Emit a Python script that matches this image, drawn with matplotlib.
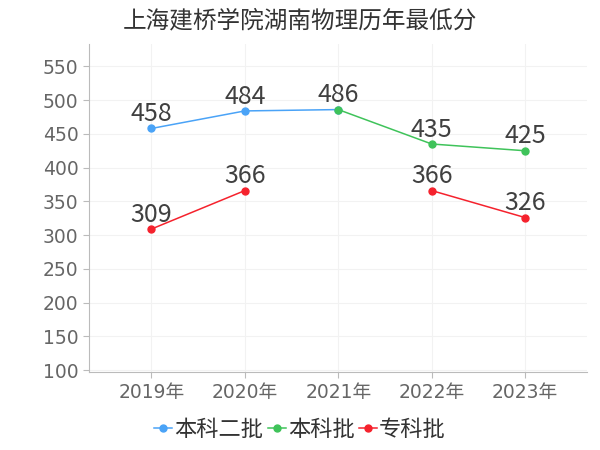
import numpy as np
import matplotlib
matplotlib.use('Agg')
import matplotlib.pyplot as plt

plt.rcParams['font.family'] = ['Noto Sans CJK SC', 'DejaVu Sans']

# data
years = ['2019年', '2020年', '2021年', '2022年', '2023年']
benke2 = [458, 484, 486, np.nan, np.nan]
benke = [np.nan, np.nan, 486, 435, 425]
zhuanke = [309, 366, np.nan, 366, 326]

series = [
    ('本科二批', benke2, '#4aa3f7'),
    ('本科批', benke, '#3fc35a'),
    ('专科批', zhuanke, '#f5222d'),
]

fig = plt.figure(figsize=(6, 4.5), dpi=100)
ax = fig.add_axes([0.148, 0.173, 0.83, 0.729])

x = np.arange(len(years))
done = set()
for name, vals, col in series:
    vals = np.array(vals, dtype=float)
    ax.plot(x, vals, color=col, linewidth=1.1, marker='o', markersize=5, label=name)
    for xi, v in zip(x, vals):
        if np.isnan(v) or (xi, v) in done:
            continue
        done.add((xi, v))
        ax.annotate(str(int(v)), (xi, v), xytext=(0, 1), textcoords='offset points',
                    ha='center', va='bottom', fontsize=18, color='#404040')

ax.set_xlim(-0.67, 4.66)
ax.set_ylim(97, 583)
ax.set_yticks(range(100, 551, 50))
ax.set_xticks(x)
ax.set_xticklabels(years, family=['DejaVu Sans', 'Noto Sans CJK SC'])
for lab in ax.get_yticklabels():
    lab.set_family(['DejaVu Sans'])
ax.tick_params(axis='x', labelsize=13.5, colors='#666666', length=4, color='#bbbbbb')
ax.tick_params(axis='y', labelsize=13.5, colors='#666666', length=4, color='#bbbbbb')

ax.grid(True, color='#f2f2f2', linewidth=0.8)
ax.set_axisbelow(True)
for s in ['top', 'right']:
    ax.spines[s].set_visible(False)
for s in ['left', 'bottom']:
    ax.spines[s].set_color('#bbbbbb')

fig.suptitle('上海建桥学院湖南物理历年最低分', x=0.5, y=0.98, fontsize=17, color='#333333')

fig.legend(loc='lower center', bbox_to_anchor=(0.5, -0.025), ncol=3, frameon=False,
           fontsize=16, handlelength=0.8, handletextpad=0.1, columnspacing=0.2,
           labelcolor='#333333')

fig.savefig('out.png', dpi=100)
